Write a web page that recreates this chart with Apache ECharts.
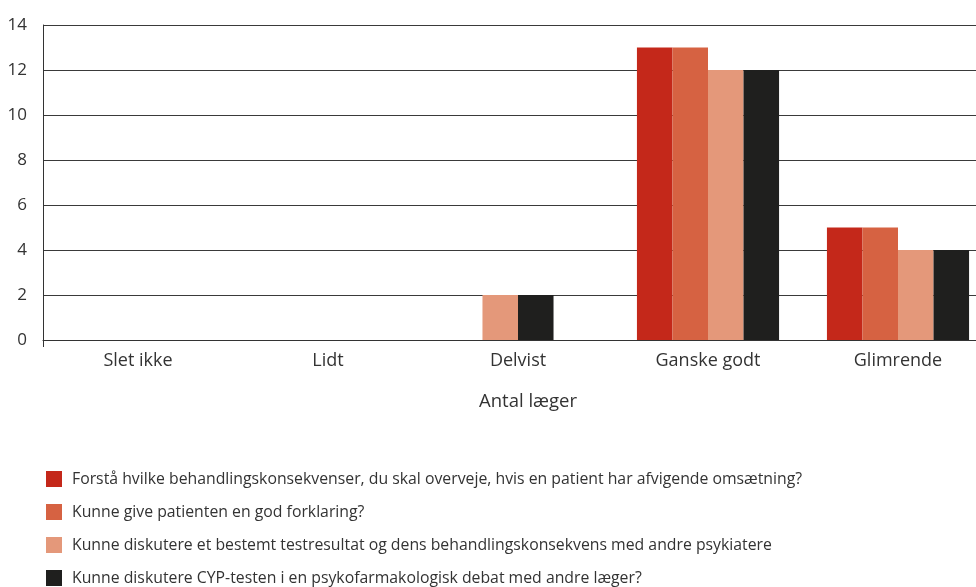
<!DOCTYPE html>
<html>
<head>
<meta charset="utf-8">
<script src="https://cdn.jsdelivr.net/npm/echarts@6/dist/echarts.min.js"></script>
<style>
  html, body { margin: 0; padding: 0; background: #fff; overflow: hidden; }
  #chart { width: 976px; height: 587px; }
</style>
</head>
<body>
<div id="chart"></div>
<script>
// kategorier og værdier (antal læger)
const categories = ["Slet ikke", "Lidt", "Delvist", "Ganske godt", "Glimrende"];
const seriesNames = [
  "Forstå hvilke behandlingskonsekvenser, du skal overveje, hvis en patient har afvigende omsætning?",
  "Kunne give patienten en god forklaring?",
  "Kunne diskutere et bestemt testresultat og dens behandlingskonsekvens med andre psykiatere",
  "Kunne diskutere CYP-testen i en psykofarmakologisk debat med andre læger?",
];
const forstaaValues = [0, 0, 0, 13, 5];
const forklaringValues = [0, 0, 0, 13, 5];
const testresultatValues = [0, 0, 2, 12, 4];
const cypDebatValues = [0, 0, 2, 12, 4];
const yTicks = { min: 0, max: 14, interval: 2 };

const allValues = [forstaaValues, forklaringValues, testresultatValues, cypDebatValues];
const colors = ["#C4281A", "#D66242", "#E4987A", "#1F1F1E"];
const fontFamily = "'Open Sans', Lato, sans-serif";

const chart = echarts.init(document.getElementById("chart"));

// søjler uden værdi springes over, så de resterende centreres i kategorien
const makeRenderItem = (sIdx) => (params, api) => {
  const cat = api.value(0);
  const v = api.value(1);
  if (!v) return null;
  const present = allValues.map((arr, i) => (arr[cat] ? i : -1)).filter((i) => i >= 0);
  const k = present.indexOf(sIdx);
  const band = api.size([1, 0])[0];
  const barW = band * 0.187;
  const base = api.coord([cat, 0]);
  const top = api.coord([cat, v]);
  const x0 = base[0] - (present.length * barW) / 2 + k * barW;
  return {
    type: "rect",
    shape: { x: x0, y: top[1], width: barW, height: base[1] - top[1] },
    style: { fill: colors[sIdx] },
  };
};

const series = allValues.map((arr, i) => ({
  name: seriesNames[i],
  type: "custom",
  renderItem: makeRenderItem(i),
  itemStyle: { color: colors[i] },
  encode: { x: 0, y: 1 },
  data: arr.map((v, c) => [c, v]),
  z: 3,
}));

const option = {
  animation: false,
  textStyle: { fontFamily },
  grid: { left: 43, right: -17, top: 25, bottom: 247, outerBoundsMode: "none", containLabel: false },
  legend: {
    orient: "vertical",
    left: 46,
    top: 471,
    height: 200,
    padding: 0,
    itemWidth: 16,
    itemHeight: 16,
    itemGap: 17,
    icon: "rect",
    data: seriesNames,
    textStyle: { fontFamily, fontSize: 15.8, color: "#333", padding: [0, 0, 0, 5] },
  },
  xAxis: {
    type: "category",
    data: categories,
    name: "Antal læger",
    nameLocation: "middle",
    nameGap: 52,
    nameTextStyle: { fontFamily, fontSize: 18.5, color: "#333", padding: [0, 0, 0, 20] },
    axisLine: { lineStyle: { color: "#333", width: 1 } },
    axisTick: { show: true, length: 7, interval: (idx) => idx === 0, lineStyle: { color: "#333" } },
    axisLabel: { fontFamily, fontSize: 18, color: "#333", margin: 12 },
  },
  yAxis: {
    type: "value",
    min: yTicks.min,
    max: yTicks.max,
    interval: yTicks.interval,
    axisLine: { show: true, lineStyle: { color: "#333", width: 1 } },
    axisTick: { show: false },
    axisLabel: { fontFamily, fontSize: 17, color: "#333", margin: 16 },
    splitLine: { lineStyle: { color: "#3a3a3a", width: 1 } },
  },
  series: series,
};

chart.setOption(option);
</script>
</body>
</html>
